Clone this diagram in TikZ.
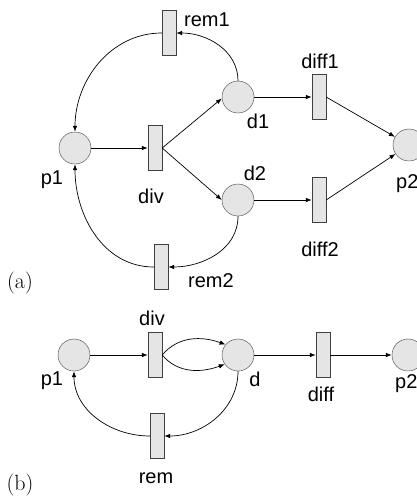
\documentclass[tikz,border=0pt]{standalone}
\usepackage{fontspec}
\setmainfont{Liberation Sans}
\newfontfamily\lmfont{Latin Modern Roman}
\usepackage{tikz}
\usetikzlibrary{arrows.meta,positioning}

\tikzset{
  place/.style={circle, draw=black!75, fill=black!10, minimum size=32pt, inner sep=0pt},
  trans/.style={rectangle, draw=black!75, fill=black!10, minimum width=14pt, minimum height=45pt, inner sep=0pt},
  lbl/.style={font=\fontsize{20}{24}\selectfont, inner sep=0pt},
  panel/.style={font=\lmfont\fontsize{22}{26}\selectfont, inner sep=0pt},
  arc/.style={->, line width=0.7pt}
}

\begin{document}
\begin{tikzpicture}[x=1pt, y=-1pt, >={Latex[length=6pt,width=4.5pt]}]
\clip (0,0) rectangle (417,498);

% (a) places and transitions
\node[place] (p1) at (75,148) {};
\node[trans] (div) at (155,148) {};
\node[place] (d1) at (238,97) {};
\node[place] (d2) at (238,200) {};
\node[trans] (rem1) at (169,33) {};
\node[trans] (rem2) at (161,267) {};
\node[trans] (diff1) at (319,97) {};
\node[trans] (diff2) at (319,200) {};
\node[place] (p2) at (409,145) {};

% (a) labels
\node[lbl] at (207,20) {rem1};
\node[lbl] at (320,61) {diff1};
\node[lbl] at (258,121) {d1};
\node[lbl] at (52,180) {p1};
\node[lbl] at (151,196) {div};
\node[lbl] at (255,173) {d2};
\node[lbl] at (320,249) {diff2};
\node[lbl] at (211,281) {rem2};
\node[lbl, anchor=west] at (396,184) {p2};
\node[panel] at (20,283) {(a)};

% (a) arcs
\draw[arc] (p1.east) -- (div.west);
\draw[arc] (div.east) -- (d1.185);
\draw[arc] (div.east) -- (d2.west);
\draw[arc] (d1.east) -- (diff1.west);
\draw[arc] (d2.east) -- (diff2.west);
\draw[arc] (diff1.east) -- (p2);
\draw[arc] (diff2.east) -- (p2);
\draw[arc] (d1.north) to[out=90, in=0] (rem1.east);
\draw[arc] (rem1.west) to[out=180, in=90] (p1.north);
\draw[arc] (d2.south) to[out=-90, in=0] (rem2.east);
\draw[arc] (rem2.west) to[out=180, in=-90] (p1.south);

% (b) places and transitions
\node[place] (q1) at (74,355) {};
\node[trans] (div0) at (155,355) {};
\node[place] (d) at (238,355) {};
\node[trans] (diff) at (323,355) {};
\node[place] (q2) at (408,355) {};
\node[trans] (rem) at (157,436) {};

% (b) labels
\node[lbl] at (152,318) {div};
\node[lbl] at (52,381) {p1};
\node[lbl] at (255,379) {d};
\node[lbl] at (321,394) {diff};
\node[lbl, anchor=west] at (395,384) {p2};
\node[lbl] at (156,478) {rem};
\node[panel] at (20,485) {(b)};

% (b) arcs
\draw[arc] (q1.east) -- (div0.west);
\draw[arc] (div0.east) to[out=50, in=160] (d.140);
\draw[arc] (div0.east) to[out=-50, in=200] (d.215);
\draw[arc] (d.east) -- (diff.west);
\draw[arc] (diff.east) -- (q2.west);
\draw[arc] (d.south) to[out=-90, in=0] (rem.east);
\draw[arc] (rem.west) to[out=180, in=-90] (q1.south);
\end{tikzpicture}
\end{document}
